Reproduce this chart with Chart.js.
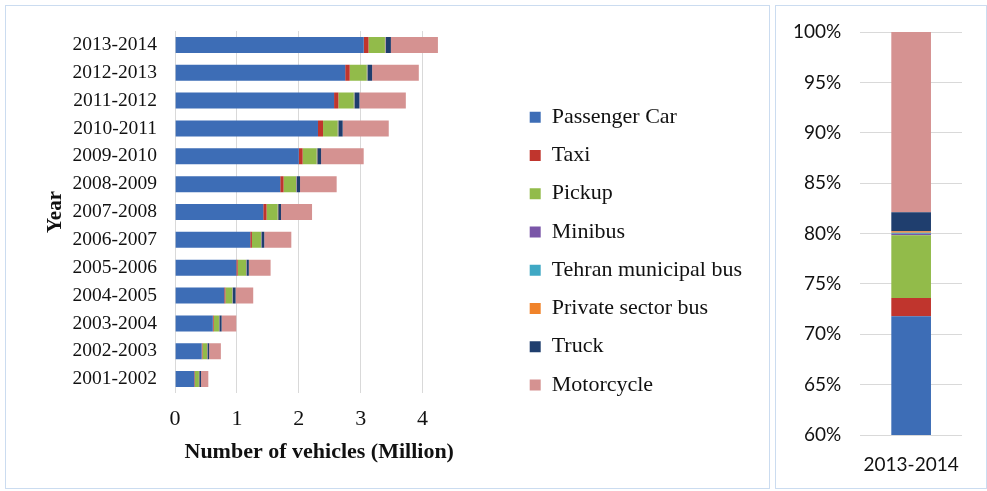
<!DOCTYPE html>
<html>
<head>
<meta charset="utf-8">
<script src="https://cdn.jsdelivr.net/npm/chart.js@4.4.1/dist/chart.umd.min.js"></script>
<style>
  body { margin: 0; background: #fff; }
  .panel { position: absolute; border: 1px solid #cbdcf0; box-sizing: border-box; }
  #left { left: 5px; top: 5px; width: 765px; height: 484px; }
  #right { left: 775px; top: 5px; width: 212px; height: 484px; }
  canvas { display: block; }
</style>
</head>
<body>
<div class="panel" id="left"><canvas id="graph_vehicules"></canvas></div>
<div class="panel" id="right"><canvas id="graph_part"></canvas></div>
<script>
// années (du plus ancien au plus récent)
const years = ['2001-2002', '2002-2003', '2003-2004', '2004-2005', '2005-2006', '2006-2007', '2007-2008',
  '2008-2009', '2009-2010', '2010-2011', '2011-2012', '2012-2013', '2013-2014'];

// nombre de véhicules par type (millions)
const passengerCar = [0.31, 0.43, 0.61, 0.795, 0.99, 1.215, 1.425, 1.70, 2.0, 2.31, 2.57, 2.75, 3.05];
const taxi = [0.01, 0.012, 0.014, 0.018, 0.022, 0.027, 0.054, 0.054, 0.062, 0.082, 0.07, 0.073, 0.077];
const pickup = [0.065, 0.075, 0.085, 0.11, 0.135, 0.146, 0.178, 0.201, 0.226, 0.236, 0.248, 0.275, 0.265];
const minibus = [0.002, 0.003, 0.003, 0.003, 0.004, 0.004, 0.004, 0.005, 0.005, 0.005, 0.005, 0.005, 0.006];
const tehranBus = [0.001, 0.001, 0.002, 0.002, 0.002, 0.002, 0.002, 0.002, 0.002, 0.003, 0.003, 0.003, 0.004];
const privateBus = [0.003, 0.003, 0.003, 0.003, 0.003, 0.003, 0.004, 0.004, 0.004, 0.004, 0.004, 0.004, 0.007];
const truck = [0.028, 0.026, 0.035, 0.047, 0.036, 0.044, 0.045, 0.054, 0.061, 0.069, 0.08, 0.075, 0.08];
const motorcycle = [0.118, 0.19, 0.237, 0.285, 0.352, 0.438, 0.502, 0.592, 0.689, 0.745, 0.75, 0.755, 0.76];

const xTicks = [0, 1, 2, 3, 4];
const plotEnd = 4.66; // le titre de l'axe x est centré sur 0 -> plotEnd

const series = [
  { label: 'Passenger Car', data: passengerCar, color: '#3d6db6' },
  { label: 'Taxi', data: taxi, color: '#c0352d' },
  { label: 'Pickup', data: pickup, color: '#92bb4a' },
  { label: 'Minibus', data: minibus, color: '#7a56a8' },
  { label: 'Tehran municipal bus', data: tehranBus, color: '#3fa8c4' },
  { label: 'Private sector bus', data: privateBus, color: '#f0832a' },
  { label: 'Truck', data: truck, color: '#1f3e6e' },
  { label: 'Motorcycle', data: motorcycle, color: '#d59291' }
];

const serif = 'Liberation Serif';
const grid = '#d9d9d9';

// pas de marge auto autour des axes
const noPad = scale => {
  scale.paddingTop = 0;
  scale.paddingBottom = 0;
  scale.paddingLeft = 0;
  scale.paddingRight = 0;
};

// graphique principal : barres horizontales empilées
new Chart(document.getElementById('graph_vehicules').getContext('2d'), {
  type: 'bar',
  data: {
    labels: years,
    datasets: series.map(s => ({
      label: s.label,
      data: s.data,
      backgroundColor: s.color,
      borderWidth: 0,
      barPercentage: 0.575,
      categoryPercentage: 1
    }))
  },
  options: {
    indexAxis: 'y',
    responsive: true,
    maintainAspectRatio: false,
    animation: false,
    layout: { padding: { top: 25, bottom: 17, left: 37, right: 17 } },
    plugins: {
      tooltip: { enabled: false },
      legend: {
        position: 'right',
        maxWidth: 260,
        labels: {
          color: '#111',
          font: { family: serif, size: 22 },
          boxWidth: 11,
          boxHeight: 11,
          padding: 16.25
        }
      }
    },
    scales: {
      x: {
        stacked: true,
        min: 0,
        max: 5.47,
        afterBuildTicks: axis => { axis.ticks = xTicks.map(v => ({ value: v })); },
        afterFit: noPad,
        grid: { color: grid, drawTicks: false },
        border: { display: false },
        ticks: { color: '#111', font: { family: serif, size: 22 }, padding: 13 },
        title: {
          display: true,
          text: 'Number of vehicles (Million)',
          color: '#111',
          font: { family: serif, size: 22, weight: 'bold' },
          padding: { top: -6.6, bottom: 5.8 }
        }
      },
      y: {
        stacked: true,
        reverse: true,
        afterFit: noPad,
        grid: { display: false, drawTicks: false },
        border: { display: false },
        ticks: { color: '#111', font: { family: serif, size: 19.5 }, padding: 18 },
        title: {
          display: true,
          text: 'Year',
          color: '#111',
          font: { family: serif, size: 21, weight: 'bold' },
          padding: { top: 0, bottom: -13.6 }
        }
      }
    }
  },
  plugins: [{
    id: 'titreX',
    // on raccourcit la boîte de l'axe x pour centrer son titre sous la zone de tracé
    afterLayout: chart => {
      const x = chart.scales.x;
      x.right = x.getPixelForValue(plotEnd);
    }
  }]
});

// part de chaque type en 2013-2014 (%)
const last = years.length - 1;
const total = series.reduce((acc, s) => acc + s.data[last], 0);

new Chart(document.getElementById('graph_part').getContext('2d'), {
  type: 'bar',
  data: {
    labels: [years[last]],
    datasets: series.map(s => ({
      label: s.label,
      data: [s.data[last] / total * 100],
      backgroundColor: s.color,
      borderWidth: 0,
      barPercentage: 0.39,
      categoryPercentage: 1
    }))
  },
  options: {
    responsive: true,
    maintainAspectRatio: false,
    animation: false,
    layout: { padding: { top: 26, bottom: -7, left: -2, right: 24 } },
    plugins: {
      tooltip: { enabled: false },
      legend: { display: false }
    },
    scales: {
      x: {
        stacked: true,
        afterFit: noPad,
        grid: { display: false, drawTicks: false },
        border: { display: false },
        ticks: { color: '#111', font: { family: 'Lato', size: 19 }, padding: 18.6 }
      },
      y: {
        stacked: true,
        min: 60,
        max: 100,
        afterFit: noPad,
        grid: { color: grid, drawTicks: false },
        border: { display: false },
        ticks: {
          stepSize: 5,
          color: '#111',
          font: { family: 'Lato', size: 19 },
          padding: 19,
          callback: v => v + '%'
        }
      }
    }
  }
});
</script>
</body>
</html>
